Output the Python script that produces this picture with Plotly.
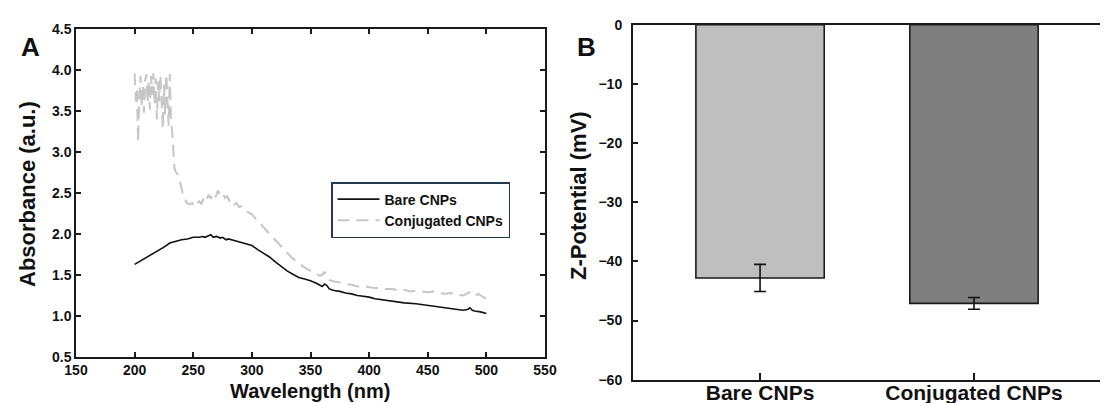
import plotly.graph_objects as go

# ---------------- Panel A data (UV-Vis) ----------------
bare_wl = [200, 205, 210, 215, 220, 225, 230, 235, 240, 245, 250, 255, 258, 260, 263, 265,
           267, 270, 273, 275, 278, 280, 285, 290, 295, 300, 305, 310, 315, 320, 325, 330,
           335, 340, 345, 350, 355, 360, 362, 364, 366, 370, 375, 380, 385, 390, 395, 400,
           405, 410, 420, 430, 440, 450, 460, 470, 475, 480, 484, 486, 488, 490, 495, 500]
bare_abs = [1.63, 1.67, 1.72, 1.76, 1.80, 1.84, 1.89, 1.91, 1.93, 1.94, 1.96, 1.96, 1.97, 1.96,
            1.98, 1.99, 1.96, 1.97, 1.95, 1.96, 1.93, 1.94, 1.92, 1.90, 1.88, 1.86, 1.81, 1.77,
            1.72, 1.66, 1.60, 1.55, 1.51, 1.47, 1.45, 1.43, 1.40, 1.36, 1.39, 1.37, 1.33, 1.31,
            1.30, 1.28, 1.27, 1.25, 1.24, 1.23, 1.21, 1.20, 1.18, 1.16, 1.15, 1.13, 1.11, 1.09,
            1.08, 1.07, 1.08, 1.10, 1.07, 1.06, 1.05, 1.03]

conj_wl = [200, 201, 202, 203, 204, 205, 206, 207, 208, 209, 210, 211, 212, 213, 214, 215,
           216, 217, 218, 219, 220, 221, 222, 223, 224, 225, 226, 227, 228, 229, 230, 231,
           232, 233, 234, 235, 237, 239, 241, 243, 245, 247, 249, 251, 253, 255, 257, 259,
           261, 263, 265, 267, 269, 271, 273, 275, 277, 279, 281, 283, 285, 287, 289, 291,
           295, 300, 305, 310, 315, 320, 325, 330, 335, 340, 345, 350, 355, 358, 360, 362,
           364, 366, 370, 375, 380, 385, 390, 395, 400, 405, 410, 415, 420, 425, 430, 435,
           440, 445, 450, 455, 460, 465, 470, 475, 480, 483, 485, 487, 490, 493, 495, 498, 500]
conj_abs = [3.96, 3.62, 3.75, 3.12, 3.70, 3.93, 3.55, 3.80, 3.48, 3.88, 3.95, 3.60, 3.85, 3.52,
            3.93, 3.70, 3.96, 3.58, 3.90, 3.40, 3.86, 3.62, 3.94, 3.50, 3.28, 3.82, 3.45, 3.95,
            3.58, 3.32, 3.95, 3.40, 3.25, 2.95, 2.80, 2.76, 2.72, 2.62, 2.50, 2.42, 2.37, 2.36,
            2.38, 2.33, 2.36, 2.40, 2.37, 2.44, 2.40, 2.48, 2.43, 2.50, 2.45, 2.53, 2.47, 2.50,
            2.44, 2.46, 2.40, 2.42, 2.36, 2.38, 2.33, 2.34, 2.28, 2.24, 2.16, 2.08, 2.00, 1.93,
            1.85, 1.77, 1.70, 1.64, 1.59, 1.55, 1.52, 1.49, 1.50, 1.54, 1.47, 1.44, 1.42, 1.41,
            1.39, 1.38, 1.36, 1.37, 1.35, 1.34, 1.34, 1.33, 1.33, 1.31, 1.32, 1.30, 1.31, 1.30,
            1.29, 1.30, 1.28, 1.27, 1.28, 1.26, 1.25, 1.27, 1.29, 1.26, 1.24, 1.27, 1.25, 1.22, 1.21]

a_xticks = [150, 200, 250, 300, 350, 400, 450, 500, 550]
a_yticks = [0.5, 1.0, 1.5, 2.0, 2.5, 3.0, 3.5, 4.0, 4.5]

# ---------------- Panel B data (Zeta potential) ----------------
categories = ["Bare CNPs", "Conjugated CNPs"]
zeta_mean = [-42.8, -47.1]
zeta_err = [2.3, 1.0]
bar_colors = ["#BFBFBF", "#7F7F7F"]
b_yticks = [0, -10, -20, -30, -40, -50, -60]

W, H = 1108, 403
FONT = "Liberation Sans, Arial, sans-serif"
AX = "#1a1a1a"


def px(x):
    return x / W


def py(y):
    return 1 - y / H


fig = go.Figure()

fig.add_trace(go.Scatter(x=bare_wl, y=bare_abs, mode="lines", name="Bare CNPs",
                         line=dict(color="#111111", width=1.6), xaxis="x", yaxis="y"))
fig.add_trace(go.Scatter(x=conj_wl, y=conj_abs, mode="lines", name="Conjugated CNPs",
                         line=dict(color="#C6C6C6", width=2, dash="12px,7px"),
                         xaxis="x", yaxis="y"))

fig.add_trace(go.Bar(x=[0, 1], y=zeta_mean, width=0.6, showlegend=False,
                     marker=dict(color=bar_colors, line=dict(color="#1a1a1a", width=1.6)),
                     error_y=dict(type="data", array=zeta_err, visible=True,
                                  color="#111111", thickness=1.6, width=6),
                     xaxis="x2", yaxis="y2"))

tickfont = dict(family=FONT, size=14, color="#111111", weight="bold")

fig.update_layout(
    width=W, height=H,
    margin=dict(l=0, r=0, t=0, b=0),
    paper_bgcolor="white", plot_bgcolor="white",
    showlegend=True,
    legend=dict(x=px(323), y=py(174), xanchor="left", yanchor="top",
                bordercolor="#233a50", borderwidth=1.5, bgcolor="white",
                font=dict(family=FONT, size=14, color="#111111", weight="bold"),
                itemwidth=42, tracegroupgap=0),
    xaxis=dict(domain=[px(68), px(537)], range=[150, 550], tickvals=a_xticks,
               showline=True, linecolor=AX, linewidth=1.5, mirror="ticks",
               ticks="inside", ticklen=5, tickwidth=1.5, tickcolor=AX,
               showgrid=False, zeroline=False, tickfont=tickfont,
               ticklabelstandoff=-1, automargin=False),
    yaxis=dict(domain=[py(349), py(21)], range=[0.5, 4.5], tickvals=a_yticks,
               tickformat=".1f", anchor="x",
               showline=True, linecolor=AX, linewidth=1.5, mirror="ticks",
               ticks="inside", ticklen=5, tickwidth=1.5, tickcolor=AX,
               showgrid=False, zeroline=False, tickfont=tickfont, automargin=False),
    xaxis2=dict(domain=[px(625), 1.0], range=[-0.594, 1.664], tickvals=[0, 1],
                ticktext=categories, anchor="y2",
                showline=True, linecolor=AX, linewidth=2, mirror=True,
                ticks="inside", ticklen=7, tickwidth=1.5, tickcolor=AX,
                showgrid=False, zeroline=False,
                tickfont=dict(family=FONT, size=21, color="#111111", weight="bold"),
                ticklabelstandoff=-7, automargin=False),
    yaxis2=dict(domain=[py(371.7), py(16.7)], range=[-60, 0], tickvals=b_yticks,
                anchor="x2",
                showline=True, linecolor=AX, linewidth=2,
                ticks="inside", ticklen=5, tickwidth=1.5, tickcolor=AX,
                showgrid=False, zeroline=False, tickfont=tickfont,
                ticklabelstandoff=6, automargin=False),
)

title_font = dict(family=FONT, size=22, color="#111111", weight="bold")
fig.add_annotation(text="Wavelength (nm)", x=px(302), y=py(383), xref="paper", yref="paper",
                   showarrow=False, font=dict(family=FONT, size=20, color="#111111", weight="bold"),
                   xanchor="center", yanchor="middle")
fig.add_annotation(text="Absorbance (a.u.)", x=px(19), y=py(186), xref="paper", yref="paper",
                   showarrow=False, font=title_font, textangle=-90,
                   xanchor="center", yanchor="middle")
fig.add_annotation(text="Z-Potential (mV)", x=px(571), y=py(188), xref="paper", yref="paper",
                   showarrow=False, font=title_font, textangle=-90,
                   xanchor="center", yanchor="middle")
panel_font = dict(family=FONT, size=26, color="#111111", weight="bold")
fig.add_annotation(text="A", x=px(22), y=py(39), xref="paper", yref="paper",
                   showarrow=False, font=panel_font, xanchor="center", yanchor="middle")
fig.add_annotation(text="B", x=px(578), y=py(39), xref="paper", yref="paper",
                   showarrow=False, font=panel_font, xanchor="center", yanchor="middle")

fig.write_html("out.html")
